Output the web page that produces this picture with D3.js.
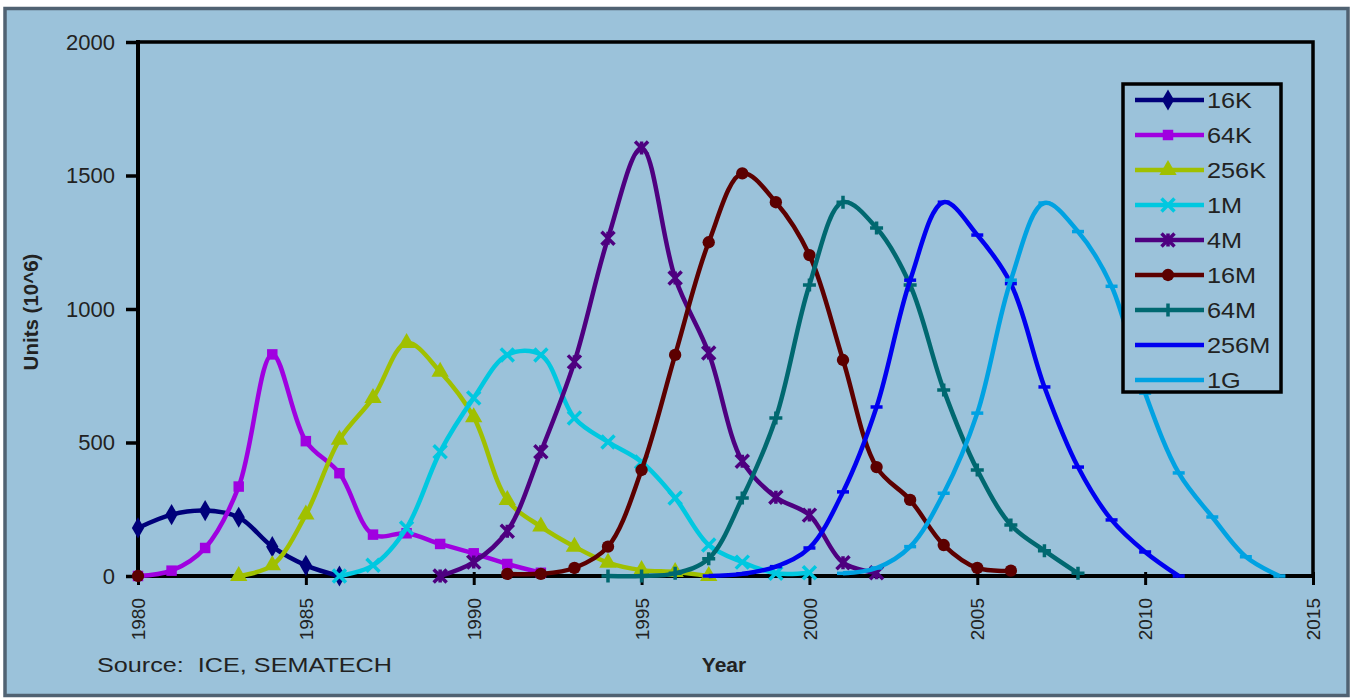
<!DOCTYPE html>
<html>
<head>
<meta charset="utf-8">
<script src="https://cdn.jsdelivr.net/npm/d3@7"></script>
<style>
    body { margin: 0; background: #ffffff; }
    text { font-family: "Liberation Sans", Arial, sans-serif; fill: #222; }
</style>
</head>
<body>
<div id="chart-area"></div>
<script>

// DRAM generations, units shipped (10^6) per year
const seriesNames = ["16K", "64K", "256K", "1M", "4M", "16M", "64M", "256M", "1G"];
const startYears = [1980, 1980, 1983, 1986, 1989, 1980, 1994, 1997, 2001];

const units16K = [180, 230, 245, 220, 110, 40, 0];
const units64K = [0, 20, 105, 335, 830, 505, 385, 155, 160, 120, 85, 45, 12];
const units256K = [0, 40, 230, 510, 667, 873, 765, 595, 285, 185, 110, 50, 22, 15, 0];
const units1M = [0, 40, 180, 465, 667, 828, 828, 592, 502, 427, 292, 116, 52, 10, 12];
const units4M = [0, 52, 168, 465, 802, 1265, 1603, 1116, 835, 430, 295, 228, 50, 12];
const units16M = [0, null, null, null, null, null, null, null, null, null, null,
    8, 8, 30, 110, 397, 828, 1250, 1508, 1400, 1202, 809, 408, 285, 116, 30, 20];
const units64M = [0, 0, 10, 65, 292, 592, 1090, 1400, 1303, 1090, 697, 397, 191, 95, 10];
const units256M = [0, 8, 35, 105, 315, 633, 1108, 1400, 1277, 1095, 708, 408, 210, 90, 0];
const units1G = [10, 30, 110, 310, 610, 1108, 1397, 1290, 1085, 685, 386, 221, 72, 0];

const yearTicks = [1980, 1985, 1990, 1995, 2000, 2005, 2010, 2015];
const unitTicks = [0, 500, 1000, 1500, 2000];

const seriesColors = ["#00007a", "#a000e0", "#a0c000", "#00c8e0", "#4e0080",
    "#5c0000", "#006870", "#0000f0", "#00a2e2"];
const seriesMarkers = ["diamond", "square", "triangle", "x", "star", "circle", "plus", "dash", "dash"];


class DramChart {

    constructor(parentElement) {
        this.parentElement = parentElement;
        this.data = [units16K, units64K, units256K, units1M, units4M,
            units16M, units64M, units256M, units1G].map((vals, i) => ({
            name: seriesNames[i],
            color: seriesColors[i],
            marker: seriesMarkers[i],
            points: vals.map((v, j) => ({year: startYears[i] + j, value: v}))
        }));

        this.initVis();
    }

    initVis() {
        let vis = this;

        vis.margin = {top: 42, right: 38, bottom: 122, left: 138};
        vis.width = 1351 - vis.margin.left - vis.margin.right;
        vis.height = 698 - vis.margin.top - vis.margin.bottom;

        vis.root = d3.select("#" + vis.parentElement).append("svg")
            .attr("width", 1351)
            .attr("height", 698);

        // outer panel
        vis.root.append("rect")
            .attr("x", 5).attr("y", 8.5)
            .attr("width", 1343).attr("height", 687)
            .attr("fill", "#9bc2da")
            .attr("stroke", "#506272")
            .attr("stroke-width", 3.5);

        vis.svg = vis.root.append("g")
            .attr("transform", "translate(" + vis.margin.left + "," + vis.margin.top + ")");

        vis.x = d3.scaleLinear().domain([1980, 2015]).range([0, vis.width]);
        vis.y = d3.scaleLinear().domain([0, 2000]).range([vis.height, 0]);

        // frame (top and right)
        vis.svg.append("path")
            .attr("d", "M0,0H" + vis.width + "V" + vis.height)
            .attr("fill", "none")
            .attr("stroke", "#000")
            .attr("stroke-width", 3.5);

        vis.yAxis = d3.axisLeft(vis.y).tickValues(unitTicks).tickSize(12).tickPadding(11)
            .tickFormat(d3.format("d"));
        vis.xAxis = d3.axisBottom(vis.x).tickValues(yearTicks).tickSize(9).tickFormat(d3.format("d"));

        vis.yAxisGroup = vis.svg.append("g").attr("class", "y-axis").call(vis.yAxis);
        vis.yAxisGroup.select(".domain").remove();
        vis.yAxisGroup.selectAll("line").attr("stroke", "#000").attr("stroke-width", 3.5);
        vis.yAxisGroup.selectAll("text").style("font-size", "22px").attr("fill", "#222");

        vis.xAxisGroup = vis.svg.append("g").attr("class", "x-axis")
            .attr("transform", "translate(0," + vis.height + ")")
            .call(vis.xAxis);
        vis.xAxisGroup.select(".domain").remove();
        vis.xAxisGroup.selectAll("line").attr("stroke", "#000").attr("stroke-width", 3).attr("y1", -4);
        vis.xAxisGroup.selectAll("text")
            .style("font-size", "19px")
            .attr("fill", "#222")
            .attr("y", 0)
            .attr("x", -22)
            .attr("dy", "0.35em")
            .attr("transform", "rotate(-90)")
            .style("text-anchor", "end");

        vis.svg.append("line")
            .attr("x1", 0).attr("x2", vis.width).attr("y1", vis.height).attr("y2", vis.height)
            .attr("stroke", "#000").attr("stroke-width", 4);

        // axis line on top of the frame
        vis.svg.append("line")
            .attr("x1", 0).attr("x2", 0).attr("y1", -2).attr("y2", vis.height + 2)
            .attr("stroke", "#000").attr("stroke-width", 4);

        vis.lineGroup = vis.svg.append("g");

        // titles
        vis.root.append("text")
            .attr("transform", "translate(38,312) rotate(-90)")
            .attr("text-anchor", "middle")
            .style("font-size", "20.5px")
            .style("font-weight", "bold")
            .text("Units (10^6)");

        vis.root.append("text")
            .attr("x", 724).attr("y", 672)
            .attr("text-anchor", "middle")
            .style("font-size", "21px")
            .style("font-weight", "bold")
            .text("Year");

        vis.root.append("text")
            .attr("x", 97).attr("y", 672)
            .style("font-size", "20px")
            .style("white-space", "pre")
            .attr("textLength", 295)
            .attr("lengthAdjust", "spacingAndGlyphs")
            .text("Source:  ICE, SEMATECH");

        vis.updateVis();
    }

    /*
     * Marker drawing helper
     */
    drawMarker(sel, d) {
        let shape = d.marker;
        let s = 6.5;
        if (shape === "diamond") {
            sel.append("path").attr("d", d3.symbol(d3.symbolDiamond, 130)()).attr("fill", d.color);
        } else if (shape === "square") {
            sel.append("path").attr("d", d3.symbol(d3.symbolSquare, 110)()).attr("fill", d.color);
        } else if (shape === "triangle") {
            sel.append("path").attr("d", d3.symbol(d3.symbolTriangle, 130)()).attr("fill", d.color);
        } else if (shape === "circle") {
            sel.append("path").attr("d", d3.symbol(d3.symbolCircle, 120)()).attr("fill", d.color);
        } else {
            let p = "";
            if (shape === "x" || shape === "star") p += "M" + -s + "," + -s + "L" + s + "," + s + "M" + -s + "," + s + "L" + s + "," + -s;
            if (shape === "star") p += "M0," + -s + "L0," + s;
            if (shape === "plus") p += "M" + -s + ",0L" + s + ",0M0," + -s + "L0," + s;
            if (shape === "dash") p += "M-6,0L6,0";
            sel.append("path").attr("d", p).attr("fill", "none")
                .attr("stroke", d.color).attr("stroke-width", 3.5);
        }
    }

    updateVis() {
        let vis = this;

        let line = d3.line()
            .defined(d => d.value !== null)
            .x(d => vis.x(d.year))
            .y(d => vis.y(d.value))
            .curve(d3.curveCatmullRom.alpha(0.5));

        let series = vis.lineGroup.selectAll("g.series")
            .data(vis.data)
            .enter()
            .append("g")
            .attr("class", "series");

        series.append("path")
            .attr("d", d => line(d.points))
            .attr("fill", "none")
            .attr("stroke", d => d.color)
            .attr("stroke-width", 4.5)
            .attr("stroke-linejoin", "round");

        series.each(function (d) {
            d3.select(this).selectAll("g.marker")
                .data(d.points.filter(p => p.value !== null))
                .enter()
                .append("g")
                .attr("class", "marker")
                .attr("transform", p => "translate(" + vis.x(p.year) + "," + vis.y(p.value) + ")")
                .each(function () { vis.drawMarker(d3.select(this), d); });
        });

        // legend
        let legend = vis.root.append("g").attr("class", "legend");
        legend.append("rect")
            .attr("x", 1123).attr("y", 84)
            .attr("width", 158).attr("height", 308)
            .attr("fill", "#9bc2da")
            .attr("stroke", "#000")
            .attr("stroke-width", 3.5);

        let rows = legend.selectAll("g.row")
            .data(vis.data)
            .enter()
            .append("g")
            .attr("class", "row")
            .attr("transform", (d, i) => "translate(0," + (100 + i * 35) + ")");

        rows.append("line")
            .attr("x1", 1135).attr("x2", 1204)
            .attr("stroke", d => d.color)
            .attr("stroke-width", 4.5);

        rows.each(function (d) {
            if (d.marker === "dash") return;
            let g = d3.select(this).append("g").attr("transform", "translate(1168,0)");
            vis.drawMarker(g, d);
        });

        rows.append("text")
            .attr("transform", "translate(1207,0) scale(1.15,1)")
            .attr("dy", "0.36em")
            .style("font-size", "22px")
            .text(d => d.name);
    }

}

new DramChart("chart-area");

</script>
</body>
</html>
